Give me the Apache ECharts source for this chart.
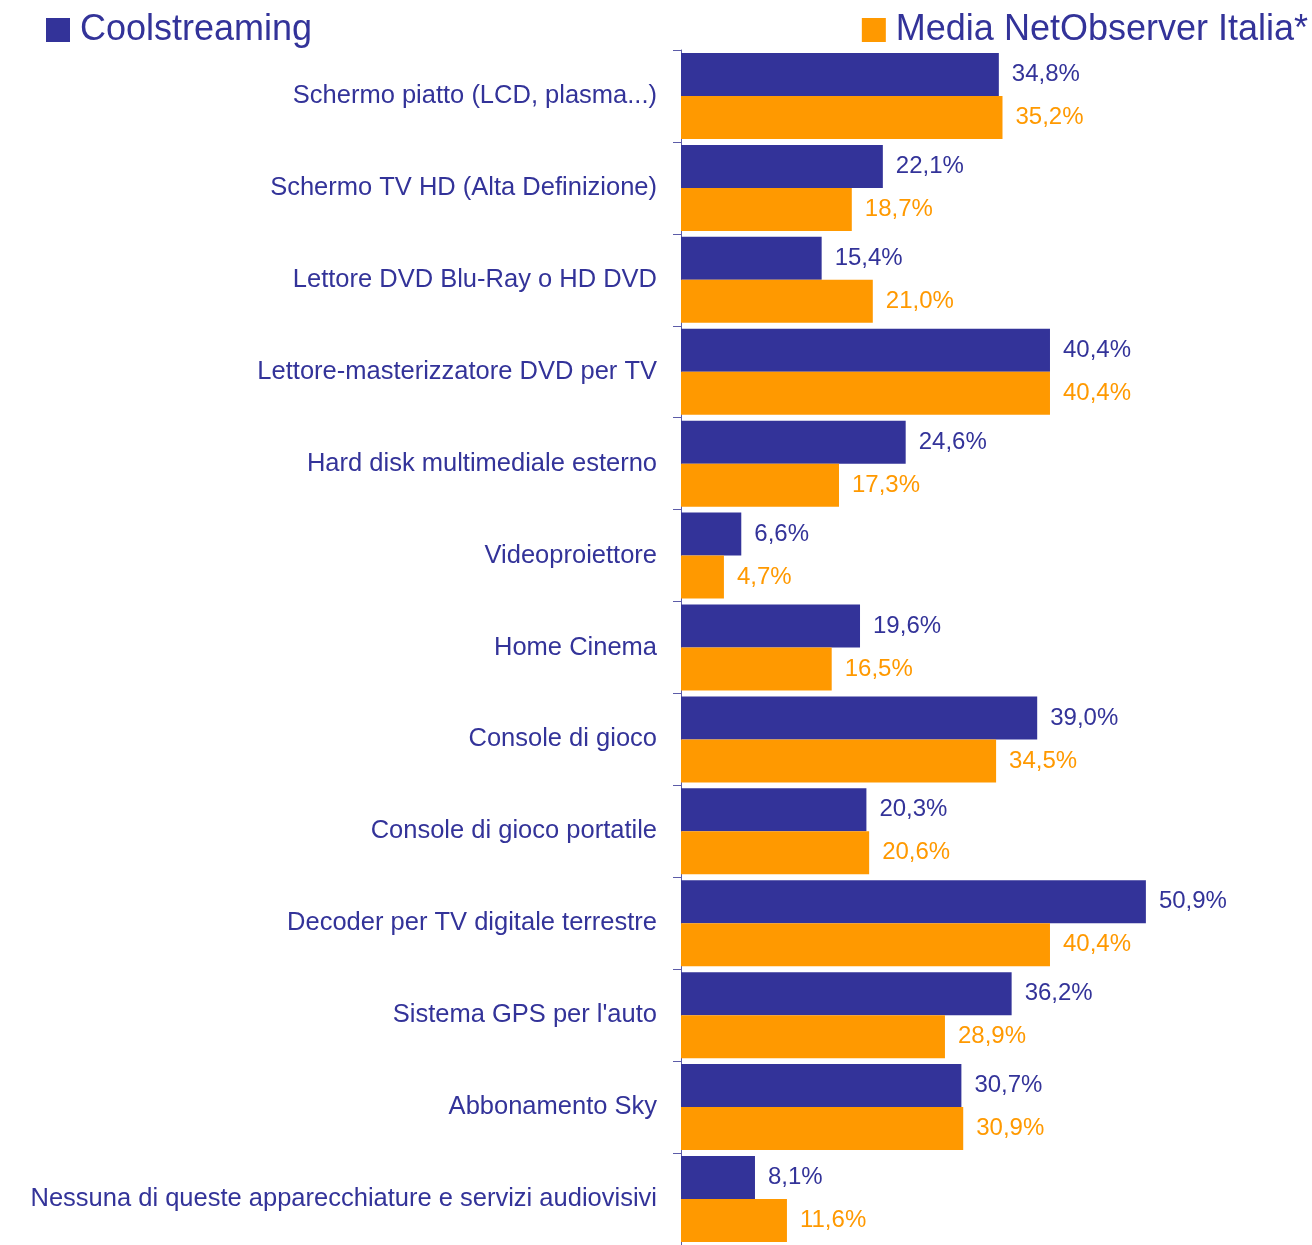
<!DOCTYPE html>
<html>
<head>
<meta charset="utf-8">
<script src="https://cdn.jsdelivr.net/npm/echarts@6/dist/echarts.min.js"></script>
<style>
  html, body { margin: 0; padding: 0; background: #fff; }
  #chart { width: 1312px; height: 1245px; }
</style>
</head>
<body>
<div id="chart"></div>
<script>
var categories = [
  'Schermo piatto (LCD, plasma...)',
  'Schermo TV HD (Alta Definizione)',
  'Lettore DVD Blu-Ray o HD DVD',
  'Lettore-masterizzatore DVD per TV',
  'Hard disk multimediale esterno',
  'Videoproiettore',
  'Home Cinema',
  'Console di gioco',
  'Console di gioco portatile',
  'Decoder per TV digitale terrestre',
  "Sistema GPS per l'auto",
  'Abbonamento Sky',
  'Nessuna di queste apparecchiature e servizi audiovisivi'
];
var coolstreaming = [34.8, 22.1, 15.4, 40.4, 24.6, 6.6, 19.6, 39.0, 20.3, 50.9, 36.2, 30.7, 8.1];
var netObserver = [35.2, 18.7, 21.0, 40.4, 17.3, 4.7, 16.5, 34.5, 20.6, 40.4, 28.9, 30.9, 11.6];

var NAVY = '#333399';
var ORANGE = '#FF9900';
var FONT = 'Liberation Sans, Arial, sans-serif';

function pct(p) {
  return p.value.toFixed(1).replace('.', ',') + '%';
}

var chart = echarts.init(document.getElementById('chart'));
// text sits a little above the square, as in the original
var legendText = { fontSize: 36, fontFamily: FONT, color: NAVY, lineHeight: 36, padding: [0, 0, 20, 5] };
chart.setOption({
  animation: false,
  backgroundColor: '#fff',
  legend: [
    {
      data: ['Coolstreaming'], left: 46, top: 2, padding: 0,
      icon: 'rect', itemWidth: 24, itemHeight: 24, textStyle: legendText
    },
    {
      data: ['Media NetObserver Italia*'], right: 4, top: 2, padding: 0,
      icon: 'rect', itemWidth: 24, itemHeight: 24, textStyle: legendText
    }
  ],
  grid: { left: 681, top: 50, width: 548, height: 1200 },
  xAxis: { type: 'value', min: 0, max: 60, show: false },
  yAxis: {
    type: 'category',
    inverse: true,
    data: categories,
    axisLine: { lineStyle: { color: '#5c5ca8', width: 1 } },
    axisTick: { show: true, length: 8, lineStyle: { color: '#5c5ca8' } },
    axisLabel: { margin: 24, fontSize: 25.5, fontFamily: FONT, color: NAVY }
  },
  series: [
    {
      name: 'Coolstreaming',
      type: 'bar',
      data: coolstreaming,
      barWidth: 43,
      barGap: '0%',
      itemStyle: { color: NAVY },
      label: { show: true, position: 'right', distance: 13, formatter: pct, fontSize: 24, fontFamily: FONT, color: NAVY }
    },
    {
      name: 'Media NetObserver Italia*',
      type: 'bar',
      data: netObserver,
      barWidth: 43,
      barGap: '0%',
      itemStyle: { color: ORANGE },
      label: { show: true, position: 'right', distance: 13, formatter: pct, fontSize: 24, fontFamily: FONT, color: ORANGE }
    }
  ]
});
</script>
</body>
</html>
